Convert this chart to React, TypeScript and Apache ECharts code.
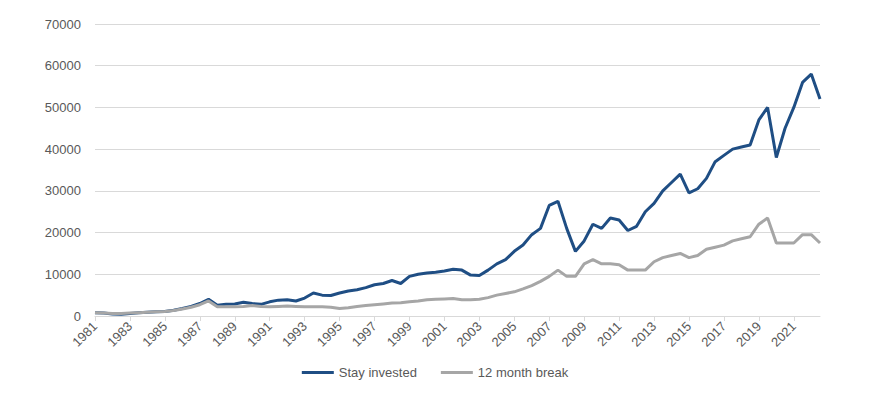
import { useEffect, useRef } from "react";
import * as echarts from "echarts";

// half-year steps from 1981 H1 to 2022 H2
const startYear = 1981;
const endYear = 2022;

const stayInvested = [
  800, 700, 500, 400, 600, 800, 900, 1000, 1100, 1400, 1800, 2300, 3000, 4000,
  2600, 2800, 2900, 3300, 3000, 2800, 3400, 3800, 3900, 3600, 4300, 5500, 5000, 4900,
  5500, 6000, 6300, 6800, 7500, 7800, 8500, 7800, 9500, 10000, 10300, 10500, 10800, 11200,
  11000, 9800, 9700, 11000, 12500, 13500, 15500, 17000, 19500, 21000, 26500, 27500,
  21000, 15500, 18000, 22000, 21000, 23500, 23000, 20500, 21500, 25000, 27000, 30000,
  32000, 34000, 29500, 30500, 33000, 37000, 38500, 40000, 40500, 41000, 47000, 50000,
  38000, 45000, 50000, 56000, 58000, 52000,
];

const monthBreak = [
  800, 700, 600, 600, 700, 800, 900, 1000, 1100, 1300, 1700, 2100, 2700, 3600,
  2200, 2200, 2200, 2300, 2500, 2300, 2200, 2300, 2400, 2300, 2200, 2200, 2200, 2100,
  1800, 2000, 2300, 2500, 2700, 2900, 3100, 3200, 3400, 3600, 3900, 4000, 4100, 4200,
  3900, 3900, 4000, 4400, 5000, 5400, 5800, 6500, 7300, 8300, 9500, 11000,
  9500, 9500, 12500, 13500, 12500, 12500, 12300, 11000, 11000, 11000, 13000, 14000,
  14500, 15000, 14000, 14500, 16000, 16500, 17000, 18000, 18500, 19000, 22000, 23500,
  17500, 17500, 17500, 19500, 19500, 17500,
];

const categories: string[] = [];
for (let y = startYear; y <= endYear; y++) {
  categories.push(String(y), `${y}H2`);
}

export default function App() {
  const ref = useRef<HTMLDivElement>(null);

  useEffect(() => {
    if (!ref.current) return;
    const chart = echarts.init(ref.current, undefined, { renderer: "svg" });
    const textColor = "#595959";
    chart.setOption({
      animation: false,
      textStyle: { fontFamily: "Liberation Sans" },
      grid: { left: 87, right: 42, top: 16, bottom: 88 },
      legend: {
        bottom: 20,
        icon: "rect",
        itemWidth: 32,
        itemHeight: 3,
        itemGap: 24,
        textStyle: { color: textColor, fontSize: 13 },
        data: ["Stay invested", "12 month break"],
      },
      xAxis: {
        type: "category",
        boundaryGap: false,
        data: categories,
        axisLine: { lineStyle: { color: "#d9d9d9" } },
        axisTick: {
          interval: (i: number) => i % 4 === 0,
          lineStyle: { color: "#d9d9d9" },
        },
        axisLabel: {
          interval: (i: number) => i % 4 === 0,
          rotate: 45,
          color: textColor,
          fontSize: 13,
        },
      },
      yAxis: {
        type: "value",
        min: 0,
        max: 70000,
        interval: 10000,
        axisLabel: { color: textColor, fontSize: 13, margin: 14, formatter: (v: number) => String(v) },
        splitLine: { lineStyle: { color: "#d9d9d9" } },
      },
      series: [
        {
          name: "Stay invested",
          type: "line",
          data: stayInvested,
          showSymbol: false,
          lineStyle: { color: "#1f4e84", width: 3 },
          itemStyle: { color: "#1f4e84" },
        },
        {
          name: "12 month break",
          type: "line",
          data: monthBreak,
          showSymbol: false,
          lineStyle: { color: "#a6a6a6", width: 3 },
          itemStyle: { color: "#a6a6a6" },
        },
      ],
    });
    return () => chart.dispose();
  }, []);

  return <div ref={ref} style={{ width: 854, height: 396 }} />;
}
